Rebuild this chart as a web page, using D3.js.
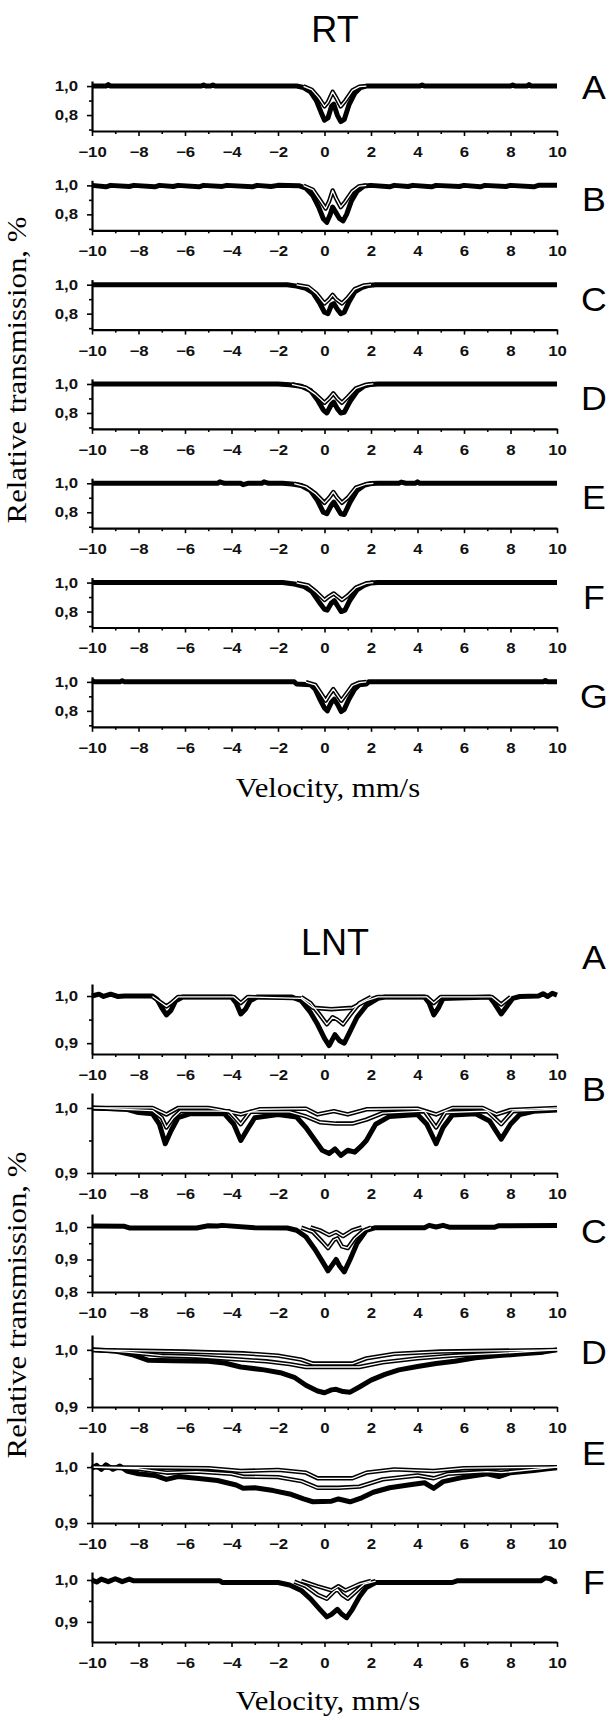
<!DOCTYPE html>
<html>
<head>
<meta charset="utf-8">
<script src="https://d3js.org/d3.v7.min.js"></script>
<style>
  body { margin: 0; background: #fff; }
  svg { display: block; }
</style>
</head>
<body>
<div id="chart"></div>
<script>
// ---- data ----
const velTicks = [-10, -8, -6, -4, -2, 0, 2, 4, 6, 8, 10];
const velMinor = [-9, -7, -5, -3, -1, 1, 3, 5, 7, 9];

const rtLetters = ["A", "B", "C", "D", "E", "F", "G"];
const lntLetters = ["A", "B", "C", "D", "E", "F"];

// RT spectra: first array = measured, second = fitted component
const rtA_exp = [[-10,1.0],[-9.4,1.0],[-9.3,1.01],[-9.2,1.0],[-5.3,1.0],[-5.2,1.008],[-5.1,1.0],[-4.9,1.0],[-4.8,1.008],[-4.7,1.0],[-1.2,1.0],[-0.9,0.99],[-0.6,0.96],[-0.35,0.9],[-0.15,0.82],[0.0,0.765],[0.15,0.78],[0.3,0.86],[0.4,0.875],[0.55,0.8],[0.7,0.755],[0.85,0.77],[1.05,0.87],[1.3,0.95],[1.55,0.99],[1.8,1.0],[4.1,1.0],[4.2,1.008],[4.3,1.0],[8.0,1.0],[8.1,1.008],[8.2,1.0],[8.7,1.0],[8.8,1.01],[8.9,1.0],[10,1.0]];
const rtA_fit = [[-0.9,0.998],[-0.55,0.975],[-0.25,0.92],[0.0,0.86],[0.15,0.89],[0.35,0.96],[0.5,0.92],[0.7,0.86],[0.9,0.9],[1.2,0.97],[1.5,0.996],[1.8,1.0]];

const rtB_exp = [[-10,1.0],[-9.4,0.99],[-9.2,1.0],[-8.4,0.992],[-8.2,1.0],[-7.3,0.99],[-7.1,1.0],[-6.5,0.992],[-6.3,1.0],[-5.4,0.99],[-5.2,1.0],[-4.4,0.993],[-4.2,1.0],[-3.1,0.99],[-2.9,1.0],[-2.3,0.992],[-2.0,1.0],[-1.1,0.998],[-0.8,0.98],[-0.5,0.93],[-0.25,0.85],[-0.05,0.77],[0.1,0.745],[0.25,0.8],[0.35,0.85],[0.5,0.81],[0.65,0.77],[0.8,0.755],[0.95,0.8],[1.15,0.89],[1.4,0.96],[1.7,0.995],[2.0,1.0],[2.8,0.99],[3.0,1.0],[3.6,0.992],[3.8,1.0],[4.6,0.99],[4.8,1.0],[5.8,0.992],[6.0,1.0],[6.7,0.99],[6.9,1.0],[7.8,0.992],[8.0,1.0],[9.0,0.99],[9.2,1.0],[10,1.0]];
const rtB_fit = [[-0.9,0.998],[-0.5,0.97],[-0.2,0.9],[0.05,0.84],[0.2,0.89],[0.35,0.965],[0.5,0.91],[0.7,0.85],[0.9,0.89],[1.2,0.96],[1.5,0.995],[1.8,1.0]];

const rtC_exp = [[-10,1.0],[-1.6,1.0],[-1.2,0.99],[-0.8,0.975],[-0.5,0.945],[-0.2,0.87],[0.0,0.81],[0.15,0.8],[0.3,0.86],[0.4,0.87],[0.55,0.83],[0.7,0.8],[0.85,0.81],[1.05,0.88],[1.3,0.95],[1.6,0.98],[1.9,0.995],[2.2,1.0],[10,1.0]];
const rtC_fit = [[-1.2,0.998],[-0.7,0.985],[-0.35,0.94],[0.0,0.87],[0.2,0.9],[0.35,0.93],[0.5,0.9],[0.75,0.87],[1.0,0.91],[1.3,0.97],[1.7,0.995],[2.0,1.0]];

const rtD_exp = [[-10,1.0],[-2.0,1.0],[-1.5,0.995],[-1.0,0.985],[-0.6,0.955],[-0.3,0.89],[-0.05,0.82],[0.1,0.8],[0.3,0.86],[0.4,0.875],[0.55,0.83],[0.7,0.8],[0.85,0.805],[1.1,0.88],[1.4,0.95],[1.7,0.985],[2.0,0.997],[2.3,1.0],[10,1.0]];
const rtD_fit = [[-1.4,0.998],[-0.8,0.975],[-0.4,0.93],[0.0,0.87],[0.2,0.9],[0.38,0.935],[0.55,0.9],[0.75,0.87],[1.0,0.91],[1.35,0.97],[1.8,0.995],[2.1,1.0]];

const rtE_exp = [[-10,1.0],[-4.6,1.0],[-4.5,1.01],[-4.3,1.0],[-3.6,1.0],[-3.5,0.99],[-3.3,1.0],[-2.7,1.0],[-2.6,1.01],[-2.4,1.0],[-1.8,1.0],[-1.4,0.995],[-1.0,0.985],[-0.6,0.95],[-0.3,0.88],[-0.05,0.8],[0.1,0.79],[0.3,0.85],[0.4,0.87],[0.55,0.83],[0.7,0.79],[0.85,0.785],[1.1,0.87],[1.4,0.95],[1.7,0.985],[2.0,0.998],[2.3,1.0],[3.2,1.0],[3.3,1.008],[3.5,1.0],[3.9,1.0],[4.0,1.01],[4.1,1.0],[10,1.0]];
const rtE_fit = [[-1.3,0.998],[-0.8,0.975],[-0.4,0.93],[0.0,0.865],[0.2,0.9],[0.38,0.94],[0.55,0.9],[0.75,0.865],[1.0,0.9],[1.35,0.97],[1.8,0.995],[2.1,1.0]];

const rtF_exp = [[-10,1.0],[-1.8,1.0],[-1.3,0.99],[-0.9,0.975],[-0.55,0.94],[-0.25,0.87],[0.0,0.815],[0.12,0.81],[0.3,0.86],[0.42,0.875],[0.58,0.835],[0.72,0.8],[0.88,0.81],[1.1,0.88],[1.4,0.95],[1.7,0.98],[2.0,0.997],[2.3,1.0],[10,1.0]];
const rtF_fit = [[-1.2,0.998],[-0.7,0.98],[-0.35,0.935],[0.0,0.88],[0.2,0.905],[0.4,0.925],[0.55,0.905],[0.75,0.88],[1.0,0.91],[1.35,0.965],[1.8,0.995],[2.1,1.0]];

const rtG_exp = [[-10,1.01],[-9.9,1.0],[-8.8,1.0],[-8.7,1.008],[-8.6,1.0],[-1.3,1.0],[-1.2,0.985],[-0.6,0.98],[-0.4,0.95],[-0.2,0.88],[0.0,0.82],[0.12,0.8],[0.3,0.86],[0.42,0.88],[0.58,0.84],[0.72,0.795],[0.85,0.81],[1.05,0.88],[1.3,0.95],[1.5,0.98],[1.8,0.985],[1.9,1.0],[9.4,1.0],[9.5,1.01],[9.6,1.0],[10,1.0]];
const rtG_fit = [[-0.8,0.998],[-0.4,0.98],[-0.15,0.92],[0.05,0.87],[0.2,0.91],[0.38,0.95],[0.55,0.91],[0.72,0.87],[0.95,0.92],[1.2,0.975],[1.5,0.995],[1.8,1.0]];

// LNT spectra: measured + components
const lntA_exp = [[-10,1.0],[-9.7,1.004],[-9.5,0.999],[-9.2,1.004],[-8.9,0.999],[-8.6,1.0],[-7.4,1.0],[-7.2,0.993],[-7.0,0.975],[-6.8,0.96],[-6.6,0.97],[-6.4,0.99],[-6.1,0.998],[-4.0,0.998],[-3.8,0.985],[-3.6,0.962],[-3.4,0.972],[-3.2,0.99],[-2.9,0.998],[-1.4,0.998],[-1.0,0.99],[-0.6,0.965],[-0.3,0.94],[0.0,0.91],[0.2,0.895],[0.45,0.918],[0.65,0.905],[0.85,0.9],[1.1,0.925],[1.4,0.955],[1.8,0.98],[2.3,0.995],[2.6,0.998],[4.3,0.998],[4.5,0.985],[4.7,0.96],[4.9,0.975],[5.1,0.995],[7.1,0.998],[7.3,0.985],[7.6,0.962],[7.8,0.975],[8.1,0.995],[8.4,0.999],[9.2,1.0],[9.4,1.005],[9.6,0.999],[9.8,1.006],[10,1.002]];
const lntA_c1 = [[-1.0,0.998],[-0.6,0.985],[-0.2,0.96],[0.1,0.94],[0.35,0.955],[0.55,0.95],[0.8,0.94],[1.1,0.96],[1.5,0.985],[2.0,0.998]];
const lntA_c2 = [[-7.4,0.999],[-7.0,0.985],[-6.8,0.978],[-6.6,0.985],[-6.3,0.998],[-3.9,0.998],[-3.6,0.985],[-3.3,0.998],[-1.0,0.995],[-0.5,0.975],[0.3,0.972],[1.2,0.975],[1.8,0.99],[2.3,0.998],[4.4,0.998],[4.7,0.985],[5.0,0.998],[7.2,0.998],[7.6,0.982],[8.0,0.998]];

const lntB_exp = [[-10,1.0],[-8.5,0.998],[-8.0,0.993],[-7.4,0.991],[-7.1,0.975],[-6.85,0.945],[-6.6,0.965],[-6.3,0.985],[-5.8,0.991],[-4.3,0.991],[-3.9,0.975],[-3.6,0.95],[-3.3,0.968],[-3.0,0.985],[-2.0,0.99],[-1.2,0.986],[-0.8,0.97],[-0.4,0.95],[-0.1,0.935],[0.2,0.93],[0.45,0.937],[0.7,0.927],[1.0,0.935],[1.3,0.932],[1.6,0.942],[1.8,0.95],[2.2,0.975],[2.8,0.987],[4.0,0.99],[4.4,0.975],[4.8,0.945],[5.1,0.97],[5.5,0.989],[6.5,0.991],[7.1,0.98],[7.6,0.952],[8.0,0.975],[8.4,0.99],[9.0,0.995],[10,0.997]];
const lntB_c1 = [[-10,1.0],[-7.4,0.996],[-7.0,0.985],[-6.8,0.97],[-6.5,0.985],[-6.2,0.995],[-4.1,0.995],[-3.6,0.975],[-3.2,0.994],[-1.5,0.994],[-0.8,0.987],[-0.2,0.978],[0.5,0.976],[1.2,0.976],[1.8,0.982],[2.5,0.992],[4.3,0.995],[4.8,0.97],[5.2,0.993],[7.0,0.995],[7.6,0.975],[8.1,0.995],[10,0.998]];
const lntB_c2 = [[-10,1.0],[-7.4,1.0],[-6.8,0.99],[-6.3,1.0],[-5.0,1.0],[-4.5,0.997],[-3.6,0.99],[-2.8,0.998],[-0.8,0.999],[-0.3,0.99],[0.4,0.995],[1.0,0.99],[1.8,0.998],[4.0,0.999],[4.8,0.99],[5.5,1.0],[6.8,1.0],[7.4,0.99],[8.0,0.997],[10,1.0]];

const lntC_exp = [[-10,1.003],[-8.6,1.002],[-8.4,0.997],[-5.5,0.997],[-5.0,1.004],[-4.6,1.003],[-4.4,1.005],[-3.0,0.998],[-1.6,0.997],[-1.2,0.99],[-0.8,0.97],[-0.4,0.93],[-0.1,0.895],[0.15,0.865],[0.35,0.885],[0.5,0.9],[0.65,0.88],[0.85,0.862],[1.1,0.9],[1.4,0.95],[1.8,0.99],[2.2,0.998],[4.3,0.998],[4.5,1.005],[4.8,1.0],[5.1,1.005],[5.4,0.999],[7.3,0.999],[7.5,1.004],[10,1.005]];
const lntC_c1 = [[-1.0,0.998],[-0.5,0.985],[-0.1,0.955],[0.15,0.935],[0.4,0.96],[0.55,0.965],[0.75,0.94],[1.0,0.935],[1.3,0.965],[1.7,0.99],[2.0,0.998]];
const lntC_c2 = [[-0.6,0.999],[-0.2,0.99],[0.2,0.975],[0.5,0.985],[0.8,0.972],[1.2,0.99],[1.6,0.999]];

const lntD_exp = [[-10,1.0],[-9,0.998],[-8.3,0.992],[-7.6,0.982],[-6.5,0.981],[-5.0,0.98],[-4.3,0.977],[-3.6,0.97],[-2.6,0.965],[-1.9,0.96],[-1.3,0.952],[-0.8,0.938],[-0.3,0.928],[0.0,0.925],[0.3,0.93],[0.5,0.931],[0.8,0.927],[1.1,0.926],[1.5,0.935],[2.0,0.947],[2.6,0.957],[3.2,0.965],[4.0,0.971],[4.8,0.976],[5.6,0.98],[6.5,0.986],[7.5,0.99],[8.5,0.993],[9.4,0.996],[10,1.0]];
const lntD_c1 = [[-10,1.0],[-8.5,0.996],[-7.0,0.99],[-5.5,0.988],[-4.0,0.984],[-2.5,0.98],[-1.5,0.975],[-0.8,0.97],[1.5,0.97],[2.5,0.978],[4.0,0.985],[5.5,0.99],[7.5,0.994],[10,1.0]];
const lntD_c2 = [[-10,1.0],[-6,0.997],[-3.5,0.994],[-2,0.99],[-1,0.983],[-0.5,0.976],[1.2,0.976],[1.8,0.985],[3,0.993],[5,0.997],[10,1.0]];

const lntE_exp = [[-10,0.998],[-9.8,1.003],[-9.6,0.996],[-9.4,1.004],[-9.1,0.996],[-8.8,1.002],[-8.5,0.993],[-8.0,0.988],[-7.3,0.985],[-6.8,0.978],[-6.3,0.983],[-5.5,0.98],[-4.6,0.976],[-3.8,0.968],[-3.5,0.962],[-3.0,0.963],[-2.2,0.958],[-1.5,0.952],[-0.9,0.943],[-0.5,0.938],[0.3,0.939],[0.6,0.943],[1.1,0.938],[1.6,0.945],[2.1,0.955],[2.8,0.963],[3.6,0.968],[4.3,0.972],[4.7,0.962],[5.1,0.974],[6.0,0.982],[7.0,0.988],[7.5,0.983],[8.0,0.99],[9.0,0.994],[9.6,0.997],[10,0.999]];
const lntE_c1 = [[-10,1.0],[-8,0.997],[-6.8,0.99],[-5.5,0.992],[-4,0.988],[-3.5,0.983],[-2,0.982],[-1,0.975],[-0.3,0.963],[0.6,0.963],[1.5,0.965],[2.5,0.978],[4,0.985],[4.7,0.98],[5.3,0.988],[7,0.992],[7.6,0.99],[10,1.0]];
const lntE_c2 = [[-10,1.0],[-5,0.998],[-3.6,0.993],[-2,0.995],[-0.8,0.99],[-0.3,0.98],[1.2,0.98],[1.8,0.99],[3,0.996],[4.7,0.993],[6,0.998],[10,1.0]];

const lntF_exp = [[-10,1.0],[-9.8,0.995],[-9.6,1.002],[-9.3,0.996],[-9.0,1.003],[-8.7,0.996],[-8.4,1.002],[-8.2,0.998],[-4.5,0.998],[-4.4,0.994],[-2.0,0.994],[-1.5,0.988],[-1.0,0.975],[-0.6,0.955],[-0.2,0.93],[0.1,0.912],[0.3,0.918],[0.55,0.93],[0.75,0.918],[0.95,0.91],[1.2,0.93],[1.5,0.96],[1.8,0.982],[2.2,0.994],[5.5,0.994],[5.7,0.998],[9.3,0.998],[9.5,1.005],[9.7,1.003],[9.9,0.996],[10,0.998]];
const lntF_c1 = [[-1.3,0.996],[-0.8,0.985],[-0.3,0.965],[0.1,0.955],[0.4,0.972],[0.55,0.978],[0.75,0.965],[1.0,0.955],[1.3,0.97],[1.7,0.99],[2.2,0.997]];
const lntF_c2 = [[-1.0,0.998],[-0.3,0.985],[0.3,0.975],[0.6,0.985],[0.9,0.975],[1.5,0.99],[2.0,0.998]];

const rtYTicks = [0.8, 1.0];
const rtYMinor = [0.7, 0.9];
const lntYTicks = [[0.9, 1.0], [0.9, 1.0], [0.8, 0.9, 1.0], [0.9, 1.0], [0.9, 1.0], [0.9, 1.0]];
const lntYMinor = [[0.95], [0.95], [0.85, 0.95], [0.95], [0.95], [0.95]];
const lntDomains = [[0.877, 1.0255], [0.9, 1.023], [0.8, 1.04], [0.9, 1.026], [0.9, 1.027], [0.852, 1.019]];

// ---- layout ----
const W = 611, H = 1720;
const X0 = 92, X1 = 557;
const SX = 1.2;                // tick labels are drawn wide in the original
const sans = "'Liberation Sans', Arial, sans-serif";
const serif = "'Liberation Serif', 'Times New Roman', serif";
const rtTop = 81, rtPitch = 99.3, rtH = 50;
const lntTops = [984, 1093, 1214, 1335, 1452, 1572];
const lntBots = [1054, 1173, 1292, 1407, 1523, 1642];
const lntLetterY = [957, 1089, 1231, 1352, 1453, 1582];

const rtCurves = [[rtA_exp, rtA_fit], [rtB_exp, rtB_fit], [rtC_exp, rtC_fit], [rtD_exp, rtD_fit],
                  [rtE_exp, rtE_fit], [rtF_exp, rtF_fit], [rtG_exp, rtG_fit]];
const lntCurves = [[lntA_exp, lntA_c1, lntA_c2], [lntB_exp, lntB_c1, lntB_c2], [lntC_exp, lntC_c1, lntC_c2],
                   [lntD_exp, lntD_c1, lntD_c2], [lntE_exp, lntE_c1, lntE_c2], [lntF_exp, lntF_c1, lntF_c2]];

const svg = d3.select("#chart").append("svg")
              .attr("width", W)
              .attr("height", H);

svg.append("rect").attr("width", W).attr("height", H).attr("fill", "#fff");

const xScale = d3.scaleLinear().domain([-10, 10]).range([X0, X1]);
const comma = d3.formatLocale({decimal: ",", thousands: " ", grouping: [3], currency: ["", ""]}).format(".1f");

// text helper, sx stretches the glyphs sideways
function label(x, y, txt, size, family, sx, rot) {
  svg.append("text")
     .attr("transform", "translate(" + x + "," + y + ")" + (rot ? " rotate(" + rot + ")" : "") + " scale(" + sx + ",1)")
     .attr("text-anchor", "middle")
     .style("font-family", family)
     .style("font-size", size + "px")
     .attr("fill", "#000")
     .text(txt);
}

function panel(curves, top, bot, dom, ticks, minor) {
  const y = d3.scaleLinear().domain(dom).range([bot, top]);
  const g = svg.append("g");
  const line = d3.line().x(d => xScale(d[0])).y(d => y(d[1]));

  // measured spectrum: heavy black trace
  g.append("path").datum(curves[0])
   .attr("d", line).attr("fill", "none")
   .attr("stroke", "#000").attr("stroke-width", 5)
   .attr("stroke-linejoin", "round");

  // components: black outline with a white core
  curves.slice(1).forEach(c => {
    g.append("path").datum(c).attr("d", line).attr("fill", "none")
     .attr("stroke", "#000").attr("stroke-width", 4.4).attr("stroke-linejoin", "round");
  });
  curves.slice(1).forEach(c => {
    g.append("path").datum(c).attr("d", line).attr("fill", "none")
     .attr("stroke", "#fff").attr("stroke-width", 1.3).attr("stroke-linejoin", "round");
  });

  // bottom axis
  const xa = g.append("g").attr("transform", "translate(0," + bot + ")")
              .call(d3.axisBottom(xScale).tickValues(velTicks).tickSize(5).tickSizeOuter(0).tickPadding(11));
  g.append("g").attr("transform", "translate(0," + bot + ")")
   .call(d3.axisBottom(xScale).tickValues(velMinor).tickSize(3).tickSizeOuter(0).tickFormat(""))
   .select(".domain").remove();
  xa.selectAll("text")
    .attr("transform", "scale(" + SX + ",1)")
    .style("font-family", sans).style("font-size", "14px").style("font-weight", "bold")
    .attr("fill", "#111");

  // left axis
  const ya = g.append("g").attr("transform", "translate(" + X0 + ",0)")
              .call(d3.axisLeft(y).tickValues(ticks).tickSize(5).tickSizeOuter(0).tickFormat(comma));
  g.append("g").attr("transform", "translate(" + X0 + ",0)")
   .call(d3.axisLeft(y).tickValues(minor).tickSize(3).tickSizeOuter(0).tickFormat(""))
   .select(".domain").remove();
  ya.selectAll("text")
    .attr("x", -14 / SX)
    .attr("transform", "scale(" + SX + ",1)")
    .style("font-family", sans).style("font-size", "14px").style("font-weight", "bold")
    .attr("fill", "#111");

  g.selectAll(".domain").attr("stroke-width", 2.2);
  g.selectAll(".tick line").attr("stroke-width", 1.6);
  return y;
}

// ---- RT block ----
label(335, 42, "RT", 36, sans, 1);
rtCurves.forEach((c, i) => {
  const top = rtTop + i * rtPitch;
  const y = panel(c, top, top + rtH, [0.69, 1.035], rtYTicks, rtYMinor);
  label(594, y(1.0) + (i === 0 ? 13 : 26), rtLetters[i], 34, sans, 1.05);
});
label(328, 797, "Velocity, mm/s", 27, serif, 1.14);
label(26, 370, "Relative transmission, %", 27, serif, 1.14, -90);

// ---- LNT block ----
label(335, 955, "LNT", 36, sans, 1);
lntCurves.forEach((c, i) => {
  panel(c, lntTops[i], lntBots[i], lntDomains[i], lntYTicks[i], lntYMinor[i]);
  label(594, lntLetterY[i] + 12, lntLetters[i], 34, sans, 1.05);
});
label(328, 1710, "Velocity, mm/s", 27, serif, 1.14);
label(26, 1305, "Relative transmission, %", 27, serif, 1.14, -90);
</script>
</body>
</html>
